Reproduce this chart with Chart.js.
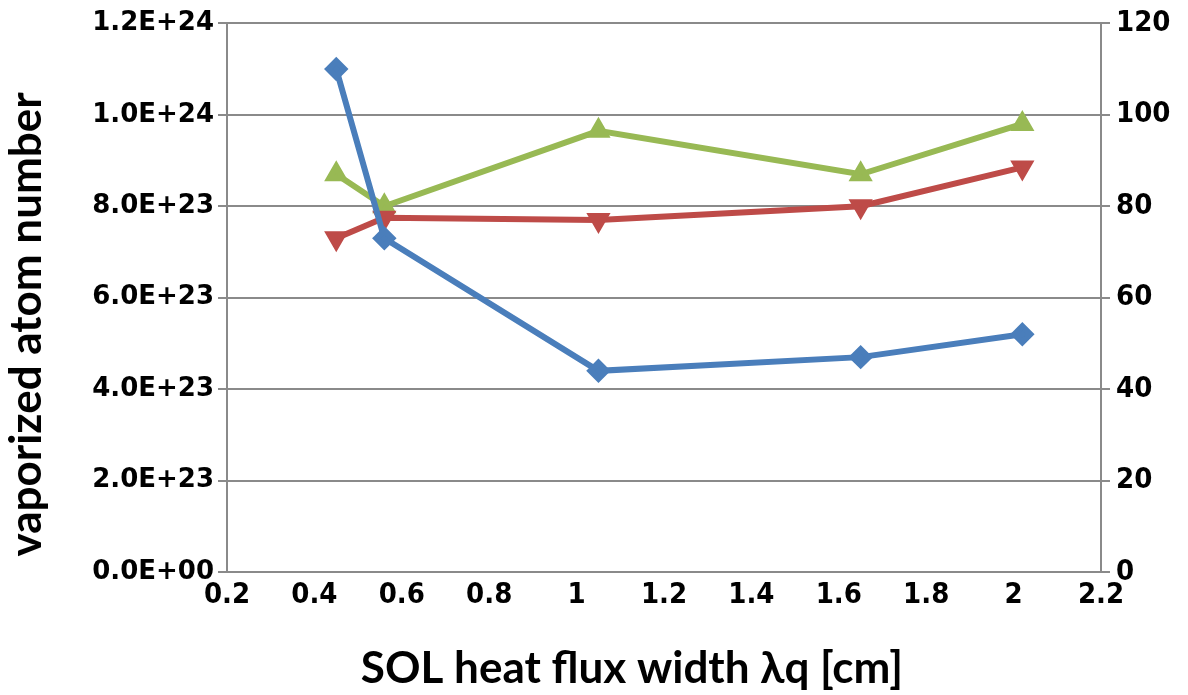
<!DOCTYPE html>
<html>
<head>
<meta charset="utf-8">
<script src="https://cdn.jsdelivr.net/npm/chart.js@4"></script>
<style>
  html, body { margin: 0; padding: 0; background: #fff; }
  #wrap { width: 1188px; height: 695px; }
</style>
</head>
<body>
<div id="wrap"><canvas id="plot-data" width="1188" height="695"></canvas></div>
<script>
// values
const widths = [0.45, 0.56, 1.05, 1.65, 2.02];        // SOL heat flux width [cm]
const atomNumber = [1.1e24, 7.3e23, 4.4e23, 4.7e23, 5.2e23]; // left axis
const redSeries = [73, 77.5, 77, 80, 88.5];           // right axis
const greenSeries = [87, 80, 96.5, 87, 98];           // right axis

const gridColor = '#8a8a8a'

function toPoints(ys) {
    return ys.map((y, i) => ({ x: widths[i], y: y }))
}

function sciLabel(v) {
    if (v === 0) return '0.0E+00'
    let s = v.toExponential(1).toUpperCase()
    let parts = s.split('E')
    let exp = parts[1]
    let sign = exp[0]
    let digits = exp.slice(1).padStart(2, '0')
    return parts[0] + 'E' + sign + digits
}

const narrow = "'Liberation Sans Narrow', 'DejaVu Sans Condensed', sans-serif"

var ctx = document.getElementById('plot-data').getContext('2d')
var chart = new Chart(ctx, {
    type: 'line',
    data: {
        datasets: [{
            data: toPoints(atomNumber),
            yAxisID: 'y',
            borderColor: '#4a7ebb',
            backgroundColor: '#4a7ebb',
            borderWidth: 6,
            pointStyle: 'rectRot',
            pointRadius: 8,
            tension: 0
        }, {
            data: toPoints(redSeries),
            yAxisID: 'y1',
            borderColor: '#be4b48',
            backgroundColor: '#be4b48',
            borderWidth: 6,
            pointStyle: 'triangle',
            pointRotation: 180,
            pointRadius: 8,
            tension: 0
        }, {
            data: toPoints(greenSeries),
            yAxisID: 'y1',
            borderColor: '#98b954',
            backgroundColor: '#98b954',
            borderWidth: 6,
            pointStyle: 'triangle',
            pointRadius: 8,
            tension: 0
        }]
    },
    options: {
        responsive: false,
        animation: false,
        layout: { padding: { top: 8, right: 0, left: 0, bottom: 0 } },
        plugins: { legend: false, tooltip: { enabled: false } },
        scales: {
            x: {
                type: 'linear',
                min: 0.2,
                max: 2.2,
                ticks: {
                    stepSize: 0.2,
                    color: '#000',
                    padding: 6,
                    maxRotation: 0,
                    font: { family: narrow, weight: 'bold', size: 29 },
                    callback: v => parseFloat(v.toFixed(1)).toString()
                },
                grid: { display: true, drawOnChartArea: false, drawTicks: false },
                border: { display: true, color: gridColor, width: 2 },
                title: {
                    display: true,
                    text: 'SOL heat flux width λq [cm]      ',
                    color: '#000',
                    font: { family: 'Lato, sans-serif', weight: 'bold', size: 44 },
                    padding: { top: 26, bottom: 0 }
                },
                afterFit: s => { s.height = 123 }
            },
            y: {
                position: 'left',
                min: 0,
                max: 1.2e24,
                ticks: {
                    stepSize: 2e23,
                    color: '#000',
                    padding: 4,
                    font: { family: "'DejaVu Sans', sans-serif", weight: 'bold', size: 26 },
                    callback: v => sciLabel(v)
                },
                grid: { color: gridColor, lineWidth: 2, tickLength: 9 },
                border: { display: true, color: gridColor, width: 2 },
                title: {
                    display: true,
                    text: 'vaporized atom number     ',
                    color: '#000',
                    font: { family: 'Lato, sans-serif', weight: 'bold', size: 44 },
                    padding: { top: 0, bottom: 6 }
                },
                afterFit: s => { s.width = 227 }
            },
            y1: {
                position: 'right',
                min: 0,
                max: 120,
                ticks: {
                    stepSize: 20,
                    color: '#000',
                    padding: 6,
                    font: { family: narrow, weight: 'bold', size: 29 }
                },
                grid: { drawOnChartArea: false, color: gridColor, lineWidth: 2, tickLength: 9 },
                border: { display: true, color: gridColor, width: 2 },
                afterFit: s => { s.width = 87 }
            }
        }
    }
})
</script>
</body>
</html>
